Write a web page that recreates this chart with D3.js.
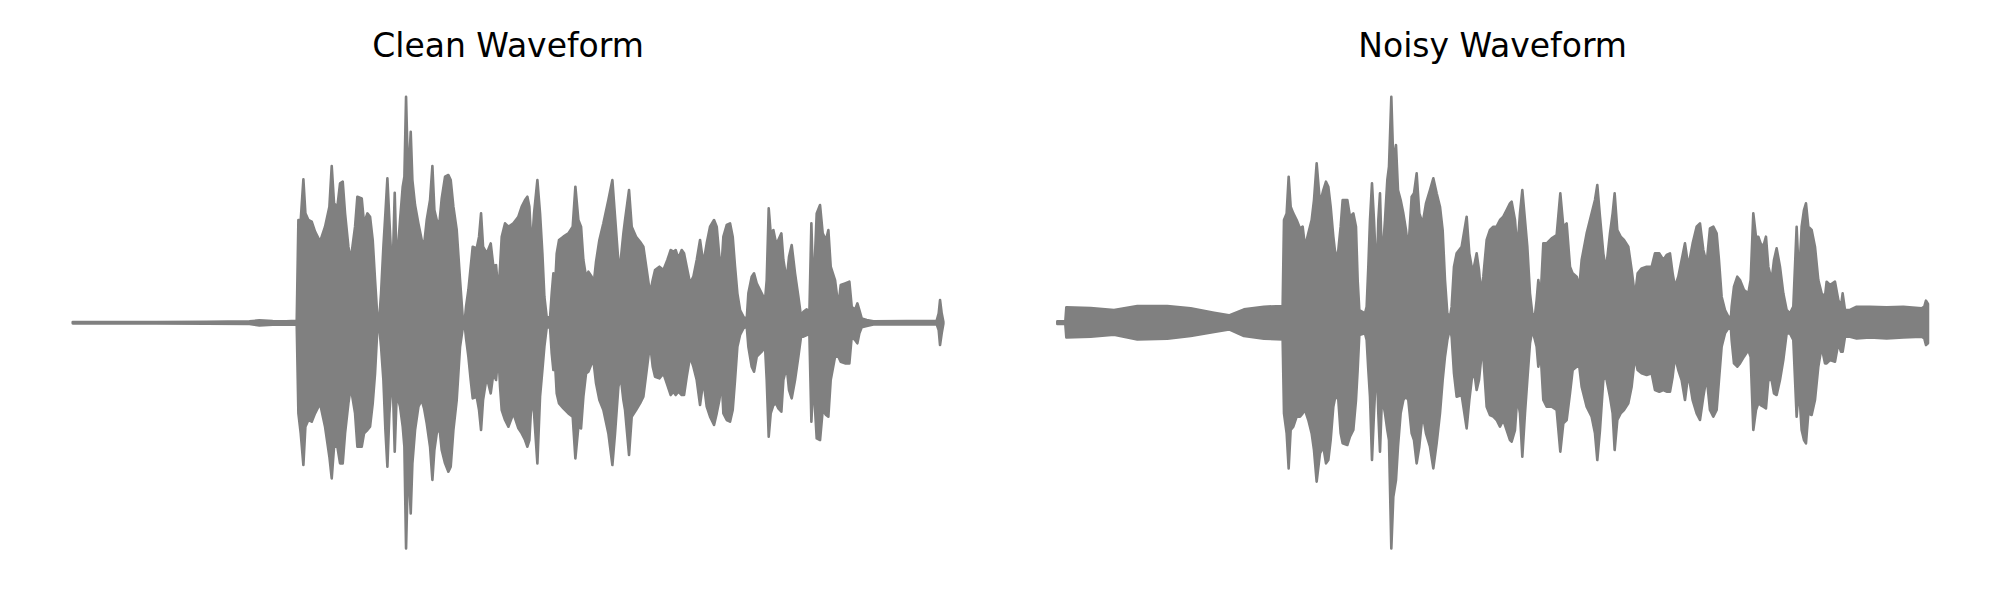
<!DOCTYPE html>
<html><head><meta charset="utf-8">
<script src="https://cdn.jsdelivr.net/npm/d3@7"></script>
<style>html,body{margin:0;padding:0;background:#fff;} svg{display:block;}</style>
</head><body>
<svg id="chart" width="2000" height="600"></svg>
<script>
// ---- data: waveform envelopes (time in ms, normalized amplitude) ----
const panelTitles = ["Clean Waveform", "Noisy Waveform"];

const cleanTimeMs = [0,100,250,400,530,560,600,640,
672,677,684,692,698,707,717,727,742,757,770,777,784,794,802,810,817,827,834,847,854,867,874,884,892,900,907,914,920,925,932,938,944,950,959,966,972,982,990,995,1000,1005,1010,1014,1019,1027,1037,1047,1054,1062,1072,1079,1085,1092,1100,1107,1117,1127,1134,1142,1152,1162,1170,1177,1180,1187,1194,1200,1212,1219,1225,1231,1242,1254,1262,1270,1277,1282,1287,1297,1307,1322,1337,
1347,1357,1364,1370,1377,1384,1394,1402,1409,1415,1422,1432,1437,1442,1447,1452,1459,1472,1487,1500,1508,1517,1525,1532,1540,1547,1557,1562,1570,1580,1592,1607,1619,1627,1637,1644,1652,1657,1669,1677,1690,1702,1712,1722,1732,1740,1747,1760,1772,1784,1794,1802,1809,1817,1827,1834,1842,1852,1862,1872,1882,1892,1902,1912,1924,1932,1940,1947,1952,1962,1972,1980,1987,1994,2002,2012,2022,
2027,2037,2044,2052,2067,2077,2082,2088,2094,2102,2110,2117,2126,2132,2142,2149,2157,2167,2177,2185,2192,2202,2210,2216,2222,2232,2242,2250,2260,2267,2274,2287,2297,2304,2317,2330,2337,2347,2354,2360,2367,2382,2402,2502,2592,2598,2602,2607,2612];

const cleanUpper = [0.002,0.002,0.002,0.003,0.004,0.007,0.005,0.004,
0.006,0.308,0.308,0.430,0.328,0.308,0.303,0.273,0.243,0.288,0.348,0.470,0.358,0.348,0.418,0.423,0.328,0.228,0.188,0.288,0.378,0.373,0.298,0.328,0.318,0.248,0.128,0.016,0.016,0.088,0.228,0.328,0.433,0.308,0.128,0.390,0.168,0.308,0.408,0.438,0.678,0.478,0.488,0.573,0.428,0.353,0.298,0.248,0.233,0.308,0.368,0.470,0.338,0.308,0.298,0.373,0.438,0.443,0.428,0.348,0.278,0.128,0.016,0.016,0.048,0.098,0.168,0.228,0.223,0.258,0.328,0.228,0.208,0.238,0.168,0.173,0.088,0.168,0.258,0.298,0.288,0.298,0.318,
0.348,0.368,0.378,0.348,0.218,0.328,0.428,0.328,0.208,0.078,0.016,0.016,0.088,0.148,0.108,0.208,0.248,0.258,0.268,0.288,0.408,0.308,0.288,0.188,0.138,0.153,0.138,0.108,0.183,0.248,0.298,0.368,0.428,0.318,0.183,0.188,0.268,0.308,0.398,0.288,0.258,0.243,0.228,0.158,0.088,0.128,0.158,0.168,0.158,0.188,0.218,0.213,0.218,0.193,0.218,0.208,0.168,0.118,0.138,0.188,0.248,0.178,0.238,0.288,0.308,0.288,0.198,0.178,0.258,0.293,0.298,0.258,0.168,0.088,0.038,0.018,0.010,
0.088,0.138,0.148,0.118,0.088,0.068,0.128,0.343,0.268,0.278,0.238,0.248,0.268,0.188,0.128,0.198,0.233,0.148,0.078,0.018,0.033,0.040,0.028,0.298,0.078,0.328,0.353,0.268,0.248,0.278,0.168,0.128,0.048,0.113,0.118,0.123,0.048,0.038,0.058,0.038,0.013,0.008,0.004,0.005,0.006,0.028,0.068,0.028,0.003];

const cleanLower = [-0.002,-0.002,-0.002,-0.003,-0.004,-0.008,-0.006,-0.005,
-0.006,-0.272,-0.332,-0.427,-0.312,-0.292,-0.297,-0.272,-0.242,-0.312,-0.402,-0.467,-0.372,-0.372,-0.422,-0.422,-0.332,-0.242,-0.192,-0.272,-0.372,-0.372,-0.332,-0.322,-0.312,-0.242,-0.152,-0.017,-0.017,-0.072,-0.172,-0.322,-0.432,-0.272,-0.142,-0.387,-0.212,-0.252,-0.312,-0.372,-0.677,-0.472,-0.482,-0.572,-0.422,-0.322,-0.252,-0.232,-0.257,-0.302,-0.372,-0.472,-0.382,-0.332,-0.312,-0.382,-0.422,-0.447,-0.432,-0.322,-0.232,-0.072,-0.017,-0.017,-0.047,-0.102,-0.172,-0.227,-0.222,-0.262,-0.322,-0.232,-0.162,-0.212,-0.152,-0.172,-0.092,-0.192,-0.262,-0.292,-0.312,-0.272,-0.317,
-0.332,-0.352,-0.372,-0.352,-0.222,-0.272,-0.422,-0.222,-0.142,-0.072,-0.014,-0.014,-0.092,-0.142,-0.122,-0.212,-0.242,-0.257,-0.272,-0.282,-0.407,-0.312,-0.317,-0.222,-0.152,-0.147,-0.122,-0.112,-0.182,-0.232,-0.262,-0.332,-0.427,-0.332,-0.192,-0.162,-0.232,-0.262,-0.397,-0.282,-0.262,-0.242,-0.222,-0.142,-0.062,-0.132,-0.162,-0.167,-0.152,-0.187,-0.217,-0.207,-0.217,-0.207,-0.217,-0.217,-0.162,-0.102,-0.132,-0.172,-0.247,-0.172,-0.252,-0.282,-0.307,-0.272,-0.232,-0.172,-0.272,-0.292,-0.297,-0.262,-0.172,-0.072,-0.037,-0.017,-0.010,
-0.072,-0.132,-0.147,-0.102,-0.087,-0.072,-0.172,-0.342,-0.272,-0.247,-0.242,-0.257,-0.267,-0.172,-0.132,-0.202,-0.227,-0.172,-0.102,-0.042,-0.042,-0.037,-0.032,-0.297,-0.172,-0.347,-0.352,-0.262,-0.277,-0.282,-0.172,-0.102,-0.102,-0.117,-0.122,-0.122,-0.042,-0.052,-0.062,-0.032,-0.014,-0.010,-0.005,-0.005,-0.005,-0.022,-0.067,-0.032,-0.003];

const noisyTimeMs = [0,24,27,100,170,240,330,400,470,515,560,620,676,
680,688,694,700,708,718,728,736,743,753,763,770,778,788,798,806,813,820,828,836,843,850,856,870,878,888,896,901,906,923,928,933,938,944,950,958,963,968,974,983,990,995,1002,1008,1016,1022,1030,1038,1046,1053,1063,1070,1078,1086,1096,1106,1118,1128,1138,1148,1156,1163,1170,1178,1183,1190,1198,1213,1228,1236,1243,1250,1258,1265,1271,1278,1288,1298,1308,1318,1328,1338,1348,1358,
1363,1373,1380,1388,1395,1403,1410,1418,1425,1433,1438,1443,1450,1458,1468,1483,1498,1509,1518,1528,1538,1546,1558,1566,1573,1588,1603,1613,1620,1628,1638,1646,1658,1666,1672,1680,1690,1700,1713,1723,1733,1741,1753,1768,1783,1793,1806,1818,1828,1838,1846,1853,1863,1873,1883,1893,1906,1918,1928,1938,1948,1958,1968,1978,1985,1993,2003,2013,2021,
2023,2030,2040,2048,2060,2073,2080,2088,2096,2103,2110,2118,2126,2133,2143,2150,2158,2168,2178,2188,2198,2208,2218,2225,2233,2240,2246,2253,2263,2273,2283,2293,2303,2308,2318,2333,2343,2351,2356,2363,2378,2398,2438,2488,2538,2593,2601,2606,2612];

const noisyUpper = [0.004,0.004,0.046,0.044,0.038,0.050,0.050,0.043,0.030,0.022,0.040,0.048,0.050,
0.308,0.328,0.438,0.348,0.328,0.308,0.283,0.288,0.228,0.268,0.308,0.368,0.478,0.358,0.398,0.423,0.408,0.348,0.258,0.188,0.218,0.288,0.368,0.368,0.318,0.328,0.288,0.128,0.038,0.028,0.048,0.168,0.308,0.418,0.308,0.128,0.308,0.388,0.178,0.308,0.428,0.468,0.678,0.478,0.533,0.398,0.368,0.328,0.278,0.218,0.378,0.388,0.448,0.328,0.298,0.358,0.398,0.433,0.388,0.348,0.278,0.128,0.028,0.018,0.048,0.168,0.208,0.228,0.318,0.208,0.168,0.168,0.208,0.158,0.088,0.138,0.248,0.278,0.288,0.288,0.308,0.318,0.338,0.358,
0.363,0.308,0.218,0.328,0.398,0.308,0.228,0.088,0.028,0.023,0.068,0.128,0.078,0.238,0.238,0.253,0.263,0.388,0.288,0.298,0.168,0.148,0.138,0.108,0.188,0.268,0.328,0.368,0.413,0.318,0.208,0.158,0.268,0.328,0.388,0.278,0.258,0.248,0.228,0.158,0.078,0.148,0.163,0.168,0.168,0.208,0.208,0.188,0.203,0.208,0.148,0.108,0.138,0.188,0.238,0.168,0.238,0.288,0.298,0.218,0.178,0.283,0.288,0.268,0.188,0.078,0.038,0.018,0.018,
0.048,0.108,0.138,0.128,0.098,0.088,0.128,0.328,0.258,0.258,0.238,0.228,0.258,0.168,0.128,0.188,0.223,0.168,0.088,0.038,0.028,0.048,0.288,0.128,0.288,0.338,0.358,0.288,0.278,0.228,0.128,0.088,0.078,0.123,0.113,0.123,0.068,0.048,0.088,0.038,0.038,0.048,0.048,0.046,0.048,0.043,0.048,0.066,0.056];

const noisyLower = [-0.004,-0.004,-0.044,-0.042,-0.036,-0.050,-0.048,-0.040,-0.028,-0.020,-0.040,-0.048,-0.050,
-0.272,-0.332,-0.437,-0.322,-0.312,-0.282,-0.282,-0.272,-0.262,-0.292,-0.332,-0.382,-0.477,-0.392,-0.372,-0.422,-0.412,-0.352,-0.252,-0.212,-0.232,-0.332,-0.362,-0.367,-0.342,-0.322,-0.232,-0.142,-0.037,-0.032,-0.052,-0.142,-0.222,-0.412,-0.272,-0.112,-0.272,-0.387,-0.222,-0.272,-0.322,-0.352,-0.677,-0.522,-0.472,-0.372,-0.272,-0.232,-0.222,-0.232,-0.332,-0.352,-0.422,-0.372,-0.272,-0.332,-0.372,-0.437,-0.362,-0.272,-0.172,-0.102,-0.052,-0.017,-0.042,-0.152,-0.222,-0.217,-0.317,-0.232,-0.172,-0.142,-0.202,-0.172,-0.112,-0.102,-0.252,-0.277,-0.282,-0.292,-0.312,-0.292,-0.322,-0.352,
-0.357,-0.322,-0.222,-0.272,-0.402,-0.272,-0.172,-0.062,-0.022,-0.052,-0.072,-0.132,-0.092,-0.232,-0.252,-0.252,-0.262,-0.387,-0.302,-0.292,-0.212,-0.142,-0.132,-0.132,-0.192,-0.252,-0.282,-0.332,-0.412,-0.322,-0.172,-0.162,-0.222,-0.272,-0.382,-0.292,-0.272,-0.262,-0.242,-0.192,-0.102,-0.142,-0.152,-0.157,-0.152,-0.202,-0.207,-0.202,-0.207,-0.207,-0.162,-0.102,-0.142,-0.172,-0.232,-0.152,-0.232,-0.272,-0.292,-0.222,-0.162,-0.262,-0.282,-0.262,-0.172,-0.072,-0.032,-0.017,-0.020,
-0.052,-0.122,-0.132,-0.122,-0.102,-0.082,-0.102,-0.322,-0.262,-0.242,-0.247,-0.252,-0.257,-0.172,-0.172,-0.212,-0.217,-0.172,-0.112,-0.032,-0.032,-0.052,-0.282,-0.192,-0.322,-0.352,-0.362,-0.272,-0.277,-0.232,-0.132,-0.072,-0.122,-0.122,-0.112,-0.117,-0.062,-0.087,-0.087,-0.042,-0.042,-0.047,-0.044,-0.047,-0.044,-0.042,-0.047,-0.067,-0.062];

// ---- drawing ----
const svg = d3.select("#chart");
svg.append("rect").attr("width", 2000).attr("height", 600).attr("fill", "#ffffff");

const panels = [
  {title: panelTitles[0], t: cleanTimeMs, hi: cleanUpper, lo: cleanLower, x0: 29.2, x1: 986.9},
  {title: panelTitles[1], t: noisyTimeMs, hi: noisyUpper, lo: noisyLower, x0: 1013.8, x1: 1971.5}
];

const y = d3.scaleLinear().domain([-0.75, 0.75]).range([572.7, 72.7]);

panels.forEach(p => {
  if (p.t.length !== p.hi.length || p.t.length !== p.lo.length) {
    console.error("length mismatch", p.title, p.t.length, p.hi.length, p.lo.length);
  }
  const tMax = d3.max(p.t);
  const x = d3.scaleLinear().domain([-0.05 * tMax, 1.05 * tMax]).range([p.x0, p.x1]);
  const rows = p.t.map((t, i) => ({t, hi: p.hi[i], lo: p.lo[i]}));
  const area = d3.area().x(d => x(d.t)).y0(d => y(d.lo)).y1(d => y(d.hi));
  const g = svg.append("g");
  g.append("path").datum(rows).attr("d", area)
    .attr("fill", "#808080").attr("stroke", "#808080")
    .attr("stroke-width", 2.6).attr("stroke-linejoin", "round");
  g.append("text")
    .attr("x", (p.x0 + p.x1) / 2).attr("y", 57.3)
    .attr("text-anchor", "middle")
    .attr("font-family", "DejaVu Sans")
    .attr("font-size", 33)
    .attr("fill", "#000")
    .text(p.title);
});
</script>
</body></html>
